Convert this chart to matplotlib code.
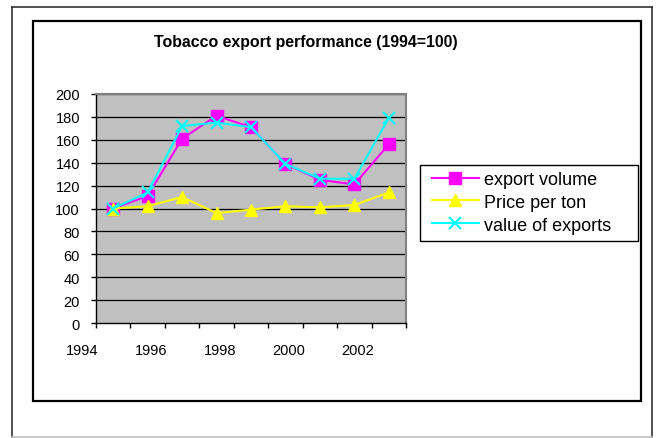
import numpy as np
import matplotlib.pyplot as plt
from matplotlib.lines import Line2D
from matplotlib.patches import Rectangle
from matplotlib.transforms import blended_transform_factory

plt.rcParams['font.family'] = ['Liberation Sans', 'DejaVu Sans']

# data (index, 1994=100)
positions = np.arange(1, 10)
export_volume = [100, 111, 161, 181, 171, 139, 125, 121, 156]
price_per_ton = [100, 102, 110, 96, 99, 102, 101, 103, 114]
value_of_exports = [100, 114, 172, 175, 171, 139, 126, 126, 179]
year_labels = ["1994", "1996", "1998", "2000", "2002"]
year_pos = [0, 2, 4, 6, 8]
y_ticks = list(range(0, 201, 20))

fig = plt.figure(figsize=(6.64, 4.39), dpi=100)
W, H = 664, 439

# page border lines
fig.add_artist(Line2D([12/W, 12/W], [0, 1-8/H], color='#333333', lw=1.2))
fig.add_artist(Line2D([12/W, 652/W], [1-8/H, 1-8/H], color='#333333', lw=1.2))
fig.add_artist(Line2D([652/W, 652/W], [0, 1-8/H], color='#333333', lw=1.2))
fig.add_artist(Line2D([12/W, 652/W], [1-438/H, 1-438/H], color='#c0c0c0', lw=1.2))

# chart area box
fig.add_artist(Rectangle((33/W, 1-402/H), (641-33)/W, (402-22)/H,
                         fill=False, edgecolor='black', lw=1.6))
# legend box
fig.add_artist(Rectangle((420/W, 1-242/H), (638-420)/W, (242-166)/H,
                         fill=True, facecolor='white', edgecolor='black', lw=1,
                         zorder=1))

ax = fig.add_axes([96/W, 1-324/H, (406-96)/W, (324-95)/H])
ax.set_facecolor('#c0c0c0')

ax.plot(positions, export_volume, color='#ff00ff', lw=1.5, marker='s',
        markersize=8, label='export volume', zorder=3)
ax.plot(positions, price_per_ton, color='#ffff00', lw=1.5, marker='^',
        markersize=8, label='Price per ton', zorder=3)
ax.plot(positions, value_of_exports, color='#00ffff', lw=1.5, marker='x',
        markersize=8, markeredgewidth=1.5, label='value of exports', zorder=4)

ax.set_xlim(0.5, 9.5)
ax.set_ylim(0, 200)
ax.set_yticks(y_ticks)
for v in y_ticks[1:]:
    ax.axhline(v, color='black', lw=0.9, zorder=1)

ax.set_xticks(np.arange(0.5, 10, 1))
ax.set_xticklabels([])
trans = blended_transform_factory(ax.transData, ax.transAxes)
for p, lab in zip(year_pos, year_labels):
    ax.text(p + 0.1, -0.12, lab, transform=trans, ha='center', va='center',
            fontsize=10.5, clip_on=False)

ax.tick_params(axis='both', direction='out', length=3.6, width=1, color='black')
ax.tick_params(axis='y', labelsize=10.5, pad=8)

ax.spines['left'].set_color('black')
ax.spines['bottom'].set_color('black')
ax.spines['left'].set_linewidth(1)
ax.spines['bottom'].set_linewidth(1)
ax.spines['top'].set_color('#808080')
ax.spines['right'].set_color('#808080')
ax.spines['top'].set_linewidth(1.5)
ax.spines['right'].set_linewidth(1.5)

fig.text(306/W, 1-42/H, "Tobacco export performance (1994=100)",
         ha='center', va='center', fontsize=11.4, fontweight='bold')

handles, labels = ax.get_legend_handles_labels()
leg = fig.legend(handles, labels, loc='upper left',
                 bbox_to_anchor=(432/W, 1-172/H),
                 bbox_transform=fig.transFigure, fontsize=13, frameon=False,
                 handlelength=2.6, borderpad=0, labelspacing=0.32,
                 handletextpad=0.3, borderaxespad=0)
leg.set_zorder(5)

fig.savefig('out.png', dpi=100)
